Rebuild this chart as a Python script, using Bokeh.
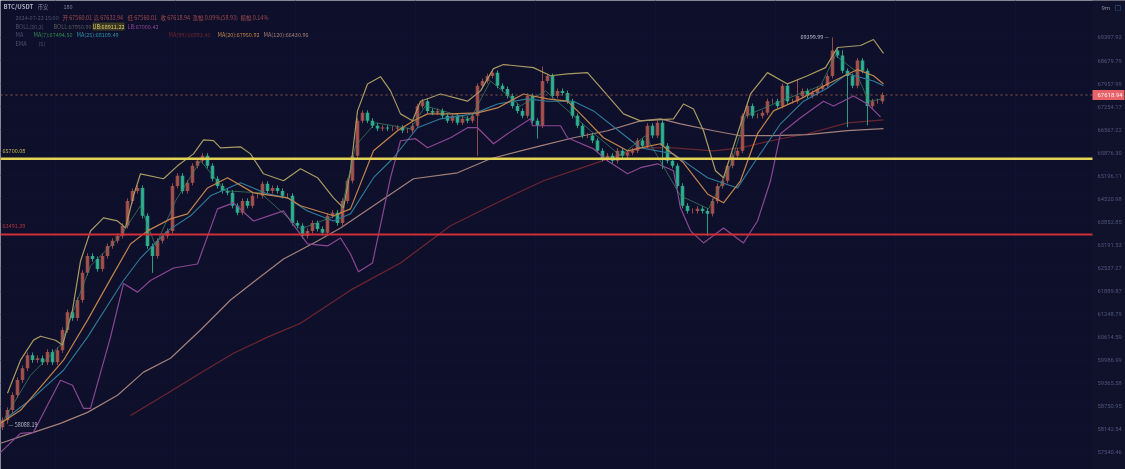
from bokeh.plotting import figure
from bokeh.embed import file_html
from bokeh.resources import INLINE
from bokeh.core.properties import value
from bokeh.models import Range1d, Label, FixedTicker

closes = [58380,58650,59050,59450,59770,60120,59990,60040,59930,60210,59930,60260,60810,61300,61140,61640,62400,62880,62790,62510,
62880,63160,63310,63450,63740,64460,64750,64840,64030,63160,62880,63310,63450,63590,64900,65200,64750,64990,65490,65640,
65790,65490,65110,64900,64750,64700,64320,64120,64460,64320,64610,64610,64960,64750,64840,64750,64610,64610,63820,63740,
63450,63590,63820,63650,63540,64030,64120,63820,64460,65050,65790,66840,67080,66840,66690,66600,66630,66600,66600,66630,
66540,66540,66690,67280,67430,67135,67080,67135,66985,66840,66985,66780,66900,66840,66985,67900,68050,68200,68300,67900,
67805,67590,67285,67135,66985,67590,66840,66690,68050,68200,67590,67744,67680,67430,66985,66690,66390,66390,66240,65940,
65700,65790,65640,65940,65790,65876,65940,66240,66090,66690,66390,66780,66090,65640,65490,64900,64320,64170,64170,64230,
64170,64085,64460,64900,65050,65490,65790,65940,66985,67285,66985,66985,67080,67430,67430,67285,67900,67430,67430,67590,
67744,67590,67680,67805,67900,68200,68990,68835,68360,68200,67900,68680,68360,67285,67430,67430,67618.94]
first_open = 58200
high_wicks = {832: 69399.99, 797: 68100, 842: 69000, 542: 68500}
low_wicks = {7: 58290, 152: 62400, 477: 65790, 707: 63450, 847: 66640, 537: 66300, 867: 66700, 662: 65400}
wick_pad = 75

ma120_x = [0,33,60,87,117,143,170,200,230,255,283,317,340,380,413,457,490,540,573,607,640,660,680,713,740,773,807,847,883]
ma120_y = [57780,58065,58300,58590,59046,59665,60040,60810,61640,62185,62790,63307,63680,64460,65110,65285,65700,66085,66327,66537,66835,66895,66745,66537,66387,66387,66417,66537,66597]
ma200_x = [130,167,200,233,267,300,350,400,450,500,543,593,640,673,713,740,780,807,847,883]
ma200_y = [58510,59100,59640,60175,60615,60995,61915,62680,63740,64460,65050,65550,66025,66025,65936,66025,66297,66447,66775,66865]
ub_x = [7,20,33,40,55,62,72,80,90,103,117,125,133,140,163,177,193,203,213,220,240,250,263,283,300,317,333,343,350,357,367,380,390,400,412,420,440,467,480,493,503,533,550,567,587,603,623,640,673,683,693,703,715,723,737,750,767,787,807,825,837,860,873,883]
ub_y = [59100,59987,60533,60640,60530,60400,61360,62730,63590,63970,63880,63680,64610,65255,65110,65490,65845,66260,66240,66025,66055,65845,65255,65050,65405,65140,64550,64260,65345,67135,67958,68180,67745,67045,66835,67430,67650,67430,67745,68430,68555,68460,68210,68270,68305,67745,67045,66835,66895,67345,67195,66537,65345,65140,66447,67650,68305,67958,68210,68460,69085,69148,69335,68900]
lb_x = [0,20,33,48,60,72,83,90,110,123,137,150,173,197,217,233,253,283,290,307,327,340,350,358,372,390,400,415,427,450,467,477,493,507,530,532,560,567,593,607,627,640,657,673,680,690,703,723,743,757,770,780,800,823,833,853,867,880]
lb_y = [57540,58038,58065,58830,59445,59313,58698,58698,60615,62100,61860,62185,62537,62650,64230,64405,63880,64170,63880,63220,63163,63390,62935,62430,62680,65140,66237,66297,66025,66327,66627,66627,66146,66447,66895,66687,66687,66327,65995,65640,65255,65435,65550,65345,64260,63595,63250,63680,63250,63880,65050,66447,66925,67430,67285,67590,67345,66955]
mid_x = [0,20,63,87,110,130,147,170,187,207,227,253,287,300,333,350,373,397,413,427,450,477,497,523,547,567,580,603,627,640,660,683,707,723,740,757,773,800,827,857,873,883]
mid_y = [58300,58645,59987,61083,62225,63220,63595,63940,64085,64840,65140,64695,64550,64320,64030,64230,65936,66537,66835,67045,67045,67075,67225,67650,67500,67430,67045,66327,65936,66025,66146,65580,64665,64405,65050,66447,67135,67500,67958,68400,68210,67958]
ma25_x = [7,33,63,87,123,140,167,190,210,240,267,287,307,333,350,373,393,417,440,473,497,527,547,573,593,627,640,673,707,737,753,780,803,827,847,873,883]
ma25_y = [58460,58990,59715,60615,62185,62820,63595,64030,64610,64990,64665,64550,64170,63880,64085,65140,65730,66627,66895,67045,67345,67500,67430,67430,67135,66327,66025,65845,65140,64840,65550,66745,67430,67835,68270,68050,67900]
ma7_x = [0,30,60,90,120,140,155,175,200,225,260,300,340,355,375,410,425,470,490,520,545,590,620,645,680,708,730,745,780,820,835,855,868,883]
ma7_y = [58250,59580,60400,62595,63450,64320,63163,64460,65640,64755,64695,63650,64085,66085,66775,66597,67285,66895,68050,67285,67745,66537,65790,66387,64610,64230,65490,66985,67430,67900,68835,68360,67430,67500]

level_yellow = 65700.08
level_red = 63491.39
last_price = 67618.94
tick_values = [69397.92,68679.79,67957.99,67254.17,66567.22,65876.30,65196.11,64520.98,63852.85,63191.53,62537.27,61889.87,61248.79,60614.59,59986.99,59365.58,58750.95,58142.54,57540.46]
tick_labels = [f"{v:.2f}" for v in tick_values]

BG = "#0e0f2a"
Y0, Y1 = 57098, 70567
AXIS_X = 1092
p = figure(frame_width=1125, frame_height=469, output_backend="svg", toolbar_location=None,
           x_range=Range1d(0, 1125), y_range=Range1d(Y0, Y1), y_axis_type="log",
           y_axis_location=None, x_axis_location=None,
           background_fill_color=BG, border_fill_color=BG, outline_line_color=None,
           min_border_left=0, min_border_right=0, min_border_top=0, min_border_bottom=0)
p.styles = {"position": "fixed", "left": "0", "top": "0"}

p.ygrid.grid_line_color = "#0f1130"
p.ygrid.ticker = FixedTicker(ticks=tick_values)
p.xgrid.grid_line_color = "#101232"
p.xgrid.ticker = FixedTicker(ticks=[55, 175, 295, 415, 535, 655, 775, 895, 1015])

# price-axis band and its tick labels
p.quad(left=[AXIS_X], right=[1125], bottom=[Y0], top=[Y1], fill_color="#10122c", line_color=None)
p.text(x=[1097] * len(tick_values), y=tick_values, text=tick_labels, text_color="#50557c",
       text_font_size="5.8px", text_font=value("Roboto"), text_baseline="middle")

bar_x = [2 + 5 * i for i in range(len(closes))]
opens = [first_open] + closes[:-1]
highs = [high_wicks.get(x, max(o, c) + wick_pad) for x, o, c in zip(bar_x, opens, closes)]
lows = [low_wicks.get(x, min(o, c) - wick_pad) for x, o, c in zip(bar_x, opens, closes)]
UP, DOWN = "#a9544f", "#2fb592"
colors = [UP if c >= o else DOWN for o, c in zip(opens, closes)]

p.line(ma200_x, ma200_y, line_color="#6d2630", line_width=1.2)
p.line(ma120_x, ma120_y, line_color="#a3807a", line_width=1.2)
p.segment(bar_x, lows, bar_x, highs, line_color=colors, line_width=1, line_alpha=0.85)
p.vbar(x=bar_x, bottom=[min(o, c) for o, c in zip(opens, closes)],
       top=[max(o, c) for o, c in zip(opens, closes)], width=3.6, fill_color=colors, line_color=None, fill_alpha=0.9)
p.line(ub_x, ub_y, line_color="#a89a62", line_width=1.2, line_join="round")
p.line(lb_x, lb_y, line_color="#8b4793", line_width=1.2, line_join="round")
p.line(ma25_x, ma25_y, line_color="#2f7d9c", line_width=1.1, line_join="round")
p.line(ma7_x, ma7_y, line_color="#3d8a68", line_width=1, line_alpha=0.7, line_join="round")
p.line(mid_x, mid_y, line_color="#c2844c", line_width=1.2, line_join="round")

p.segment([0], [last_price], [AXIS_X], [last_price], line_color="#8f5a4c", line_dash="2 3", line_width=1)
p.segment([0], [level_yellow], [AXIS_X], [level_yellow], line_color="#e3d455", line_width=2.4)
p.segment([0], [level_red], [AXIS_X], [level_red], line_color="#cf2f38", line_width=2)

# last-price tag on the axis band
p.quad(left=[AXIS_X], right=[1124], bottom=[last_price * 0.9977], top=[last_price * 1.0023],
       fill_color="#e8636a", line_color=None)
p.text(x=[1097], y=[last_price], text=[f"{last_price:.2f}"], text_color="#fff0ee",
       text_font_size="6px", text_font=value("Roboto"), text_baseline="middle")

def txt(s, x, y, color, size=5.5, bold=False, font="Noto Sans CJK SC", **kw):
    p.add_layout(Label(x=x, y=469 - y, x_units="screen", y_units="screen", text=s, text_color=color,
                       text_font_size=f"{size}px", text_baseline="middle", text_font=font,
                       text_font_style="bold" if bold else "normal", level="overlay", **kw))

txt("BTC/USDT", 3, 6, "#a9adc0", 6, True)
txt("币安", 37, 6, "#7c8098", 5.5)
txt("180", 63, 6, "#7c8098", 5.5)
txt("2024-07-23 15:00", 15, 17, "#4f5472")
txt("开 67560.01", 62, 17, "#a14a4c")
txt("高 67633.94", 93, 17, "#a14a4c")
txt("低 67560.01", 127, 17, "#a14a4c")
txt("收 67618.94", 160, 17, "#a14a4c")
txt("涨幅 0.09%(58.93)", 192, 17, "#a14a4c")
txt("振幅 0.14%", 240, 17, "#a14a4c")
txt("BOLL(20,2)", 15, 26, "#4f5472")
txt("BOLL:67950.90", 53, 26, "#5e5a58")
txt("UB:68911.22", 92, 26, "#d9c66a", background_fill_color="#3a3a22")
txt("LB:67000.42", 127, 26, "#8b4793")
txt("MA", 15, 34, "#4f5472")
txt("MA(7):67494.50", 33, 34, "#2f8a50")
txt("MA(25):68109.49", 76, 34, "#2d8fa8")
txt("MA(99):66893.40", 168, 34, "#6d2630")
txt("MA(20):67950.92", 217, 34, "#c2844c")
txt("MA(120):66430.96", 263, 34, "#a3807a")
txt("EMA", 15, 43, "#4f5472")
txt("(5)", 38, 43, "#4f5472")

txt("65700.08", 2, 150, "#c9bb52")
txt("63491.39", 2, 225, "#b0353c")
txt("69399.99", 800, 36, "#b8bccc")
txt("—", 824, 36, "#b8bccc", 5)
txt("— 58088.19", 8, 424, "#b8bccc")
txt("9m", 1101, 7, "#8a8ea8", 6, font="Roboto")
txt("□", 1114, 7, "#3a6ea8", 7, font="DejaVu Sans")

open("out.html", "w").write(file_html(p, INLINE))
